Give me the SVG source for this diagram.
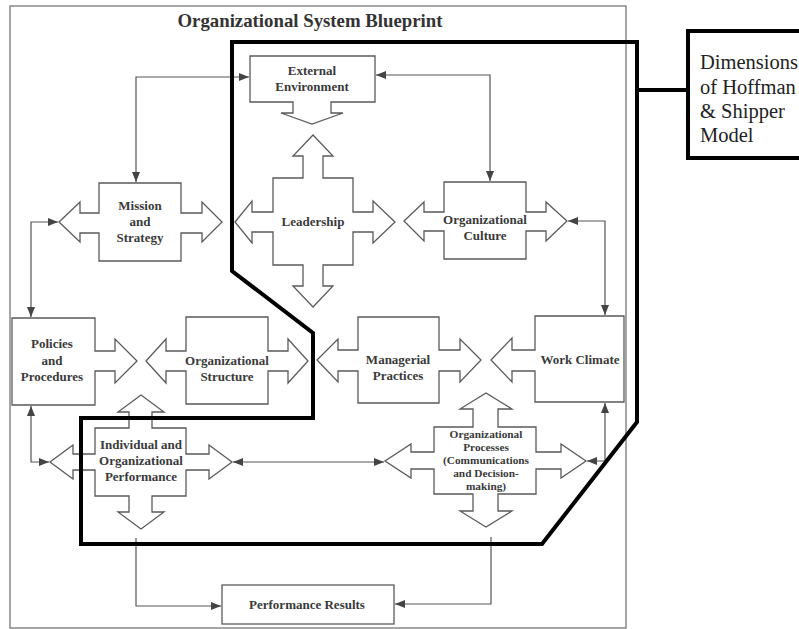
<svg xmlns="http://www.w3.org/2000/svg" width="799" height="629" viewBox="0 0 799 629">
  <defs>
    <marker id="tri" viewBox="0 0 10 8" refX="10" refY="4" markerWidth="10" markerHeight="8" markerUnits="userSpaceOnUse" orient="auto-start-reverse">
      <path d="M0,0 L10,4 L0,8 Z" fill="#444"/>
    </marker>
    <style>
      .shape { fill: #fff; stroke: #5a5a5a; stroke-width: 1.3; stroke-linejoin: miter; }
      .lbl { font-family: "Liberation Serif", "Times New Roman", serif; font-weight: bold; font-size: 13px; fill: #3a3a3a; text-anchor: middle; }
      .small { font-size: 11.3px; }
      .conn path { fill: none; stroke: #555; stroke-width: 1.2; }
      .two { marker-start: url(#tri); marker-end: url(#tri); }
      .one { marker-end: url(#tri); }
      .bound { fill: none; stroke: #000; stroke-width: 4; }
    </style>
  </defs>

  <rect width="799" height="629" fill="#fff"/>

  <!-- page frame and title -->
  <rect x="10" y="6" width="616" height="622" fill="none" stroke="#777" stroke-width="1.3"/>
  <text x="310" y="27" font-family="Liberation Serif, Times New Roman, serif" font-weight="bold" font-size="18.8" fill="#333" text-anchor="middle">Organizational System Blueprint</text>

  <!-- connectors -->
  <g id="connectors" class="conn">
    <path class="two" d="M136,182 V77 H249"/>
    <path class="two" d="M376,75 H490 V181"/>
    <path class="two" d="M58,222 H31 V317"/>
    <path class="two" d="M568,221 H605 V315"/>
    <path class="two" d="M31,406 V462 H49"/>
    <path class="two" d="M233,462 H384"/>
    <path class="two" d="M587,461 H605 V403"/>
    <path class="one" d="M136,538 V606 H221"/>
    <path class="one" d="M491,537 V604 H395"/>
  </g>

  <g id="external-environment">
    <path class="shape" d="M250,56 H375 V102 H331 V113 H343 L312,124 L281,113 H293 V102 H250 Z"/>
    <text class="lbl" x="312" y="75">External</text>
    <text class="lbl" x="312" y="91">Environment</text>
  </g>

  <g id="mission-strategy">
    <path class="shape" d="M99,183 H181 V213 H202 V202 L222,222 L202,242 V233 H181 V261 H99 V233 H80 V242 L59,222 L80,202 V213 H99 Z"/>
    <text class="lbl" x="140" y="210">Mission</text>
    <text class="lbl" x="140" y="226">and</text>
    <text class="lbl" x="140" y="242">Strategy</text>
  </g>

  <g id="leadership">
    <path class="shape" d="M273,178 H303 V156 H293 L313,135 L333,156 H323 V178 H353 V212 H373 V201 L395,222 L373,243 V232 H353 V265 H323 V286 H333 L313,307 L293,286 H303 V265 H273 V232 H252 V243 L235,222 L252,201 V212 H273 Z"/>
    <text class="lbl" x="313" y="226">Leadership</text>
  </g>

  <g id="organizational-culture">
    <path class="shape" d="M444,182 H526 V212 H546 V202 L567,221 L546,241 V231 H526 V259 H444 V231 H424 V241 L404,221 L424,202 V212 H444 Z"/>
    <text class="lbl" x="485" y="224">Organizational</text>
    <text class="lbl" x="485" y="240">Culture</text>
  </g>

  <g id="policies-procedures">
    <path class="shape" d="M12,318 H95 V351 H115 V339 L137,361 L115,383 V371 H95 V405 H12 Z"/>
    <text class="lbl" x="52" y="348">Policies</text>
    <text class="lbl" x="52" y="365">and</text>
    <text class="lbl" x="52" y="381">Procedures</text>
  </g>

  <g id="organizational-structure">
    <path class="shape" d="M186,317 H268 V351 H288 V339 L308,361 L288,383 V371 H268 V404 H186 V371 H166 V383 L146,361 L166,339 V351 H186 Z"/>
    <text class="lbl" x="227" y="365">Organizational</text>
    <text class="lbl" x="227" y="381">Structure</text>
  </g>

  <g id="managerial-practices">
    <path class="shape" d="M358,317 H439 V350 H460 V339 L481,360 L460,382 V371 H439 V403 H358 V371 H338 V382 L317,360 L338,339 V350 H358 Z"/>
    <text class="lbl" x="398" y="364">Managerial</text>
    <text class="lbl" x="398" y="380">Practices</text>
  </g>

  <g id="work-climate">
    <path class="shape" d="M535,316 H624 V402 H535 V371 H512 V382 L491,360 L512,338 V350 H535 Z"/>
    <text class="lbl" x="580" y="364">Work Climate</text>
  </g>

  <g id="individual-performance">
    <path class="shape" d="M95,428 H129 V412 H118 L141,395 L164,412 H152 V428 H186 V454 H209 V445 L232,462 L209,479 V470 H186 V496 H152 V512 H164 L141,529 L118,512 H129 V496 H95 V470 H73 V479 L50,462 L73,445 V454 H95 Z"/>
    <text class="lbl" x="141" y="449">Individual and</text>
    <text class="lbl" x="141" y="465">Organizational</text>
    <text class="lbl" x="141" y="481">Performance</text>
  </g>

  <g id="organizational-processes">
    <path class="shape" d="M434,427 H473 V409 H460 L486,393 L512,409 H498 V427 H536 V452 H561 V444 L586,461 L561,478 V469 H536 V494 H498 V511 H512 L486,527 L460,511 H473 V494 H434 V469 H411 V478 L385,461 L411,444 V452 H434 Z"/>
    <text class="lbl small" x="486" y="438">Organizational</text>
    <text class="lbl small" x="486" y="451">Processes</text>
    <text class="lbl small" x="486" y="464">(Communications</text>
    <text class="lbl small" x="486" y="477">and Decision-</text>
    <text class="lbl small" x="486" y="490">making)</text>
  </g>

  <g id="performance-results">
    <rect class="shape" x="222" y="585" width="172" height="39"/>
    <text class="lbl" x="307" y="609">Performance Results</text>
  </g>

  <!-- model boundary and its legend -->
  <g id="model-boundary">
    <path class="bound" d="M232,42 H637 V422 L542,544 H81 V418 H313 V333 L232,271 Z"/>
    <path class="bound" d="M637,90 H688"/>
  </g>
  <g id="legend">
    <rect x="688" y="31" width="124" height="127" fill="#fff" stroke="#000" stroke-width="4"/>
    <g font-family="Liberation Serif, Times New Roman, serif" font-size="20.5" fill="#222">
      <text x="700" y="69">Dimensions</text>
      <text x="700" y="94">of Hoffman</text>
      <text x="700" y="118">&amp; Shipper</text>
      <text x="700" y="142">Model</text>
    </g>
  </g>
</svg>
